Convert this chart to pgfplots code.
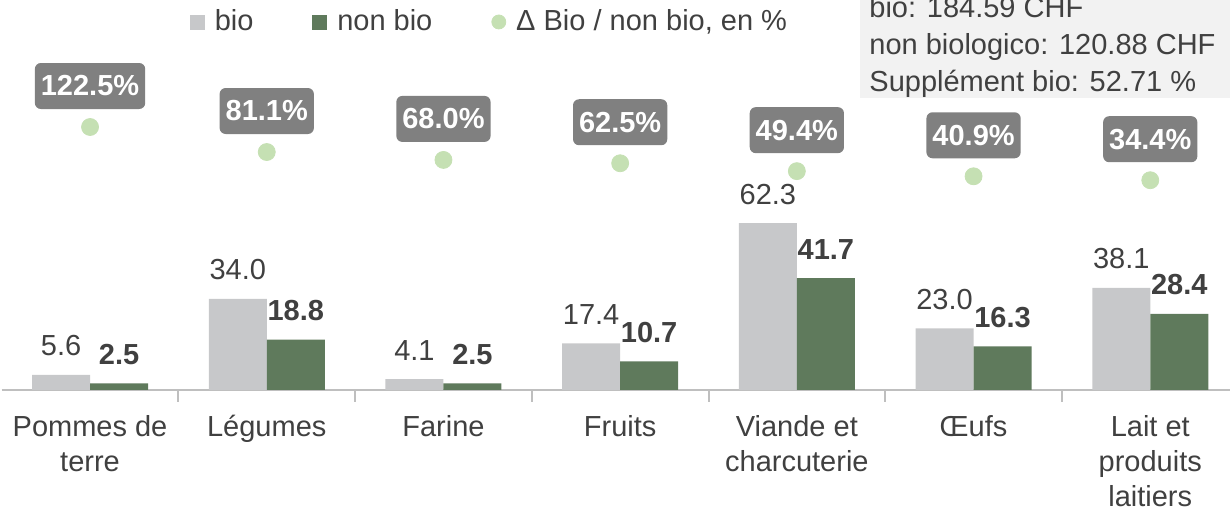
\documentclass[border=0pt]{standalone}
\usepackage{fontspec}
\setmainfont{Liberation Sans}
\usepackage{pgfplots}
\pgfplotsset{compat=1.18}
\definecolor{biocol}{HTML}{C7C8CA}
\definecolor{noncol}{HTML}{5F7A5C}
\definecolor{dotcol}{HTML}{C5E0B3}
\definecolor{boxcol}{HTML}{808080}
\definecolor{txtcol}{HTML}{404040}
\definecolor{axcol}{HTML}{BFBFBF}
\definecolor{notecol}{HTML}{F2F2F2}
\newcommand{\lblfont}{\fontsize{14.5}{18}\selectfont}
\begin{document}
\begin{tikzpicture}
\pgfkeys{/pgf/number format/.cd, fixed, fixed zerofill, precision=1, assume math mode=true}
\begin{axis}[
  at={(0.85pt,61.5pt)}, anchor=south west,
  x=88.35pt, y=1.34pt,
  xmin=-0.5, xmax=6.5, ymin=0, ymax=100,
  axis x line*=bottom, axis y line=none,
  axis line style={axcol, line width=1pt},
  xtick={0,...,6},
  xticklabels={{Pommes de\\terre},{Légumes},{Farine},{Fruits},{Viande et\\charcuterie},{Œufs},{Lait et\\produits\\laitiers}},
  xticklabel style={align=center, font=\fontsize{14.5}{17.5}\selectfont, text=txtcol, anchor=north, inner sep=0pt, yshift=-12.5pt},
  major tick length=0pt,
  minor xtick={0.5,1.5,...,5.5},
  minor x tick style={axcol, line width=1pt},
  minor tick length=6pt,
  tick align=outside,
  ybar, bar width=29pt,
  clip=false,
  nodes near coords,
  every node near coord/.append style={font=\lblfont, text=txtcol, anchor=base, yshift=9.5pt},
]
\addplot[fill=biocol, draw=none, bar shift=-14.5pt] coordinates {(0,5.6) (1,34.0) (2,4.1) (3,17.4) (4,62.3) (5,23.0) (6,38.1)};
\addplot[fill=noncol, draw=none, bar shift=14.5pt, every node near coord/.append style={font=\lblfont\bfseries}] coordinates {(0,2.5) (1,18.8) (2,2.5) (3,10.7) (4,41.7) (5,16.3) (6,28.4)};
\end{axis}
\begin{axis}[
  at={(0.85pt,156pt)}, anchor=south west,
  x=88.35pt, y=0.302pt,
  xmin=-0.5, xmax=6.5, ymin=0, ymax=200,
  hide axis, clip=false,
  legend columns=3,
  legend style={at={(0.1522,1.482)}, anchor=west, draw=none, fill=none, inner sep=0pt, outer sep=0pt,
    font=\lblfont, text=txtcol,
    nodes={inner sep=2pt},
    /tikz/every odd column/.append style={column sep=3pt},
    /tikz/every even column/.append style={column sep=27.5pt}},
]
\addlegendimage{legend image code/.code={\fill[biocol] (0pt,-3.5pt) rectangle (7pt,3.5pt);}}
\addlegendentry{bio}
\addlegendimage{legend image code/.code={\fill[noncol] (0pt,-3.5pt) rectangle (7pt,3.5pt);}}
\addlegendentry{non bio\hspace{11pt}}
\addplot[only marks, mark=*, mark size=4.25pt, color=dotcol,
  legend image code/.code={\fill[dotcol] (3.5pt,0pt) circle (3.5pt);},
  nodes near coords={\pgfmathprintnumber{\pgfplotspointmeta}\%},
  every node near coord/.append style={fill=boxcol, text=white, rounded corners=3pt, font=\lblfont\bfseries,
    minimum height=23pt, inner xsep=3pt, anchor=center, yshift=20.5pt}]
  coordinates {(0,122.5) (1,81.1) (2,68.0) (3,62.5) (4,49.4) (5,40.9) (6,34.4)};
\addlegendentry{Δ Bio / non bio, en \%}
\end{axis}
\fill[notecol] (430pt,207.5pt) rectangle (620pt,270pt);
\node[anchor=base west, font=\lblfont, text=txtcol, inner sep=0pt] at (434.5pt,247.5pt) {bio: 184.59 CHF};
\node[anchor=base west, font=\lblfont, text=txtcol, inner sep=0pt] at (434.5pt,229pt) {non biologico: 120.88 CHF};
\node[anchor=base west, font=\lblfont, text=txtcol, inner sep=0pt] at (434.5pt,210.5pt) {Supplément bio: 52.71 \%};
\pgfresetboundingbox
\path[use as bounding box] (0pt,0pt) rectangle (615pt,256.5pt);
\end{tikzpicture}
\end{document}
